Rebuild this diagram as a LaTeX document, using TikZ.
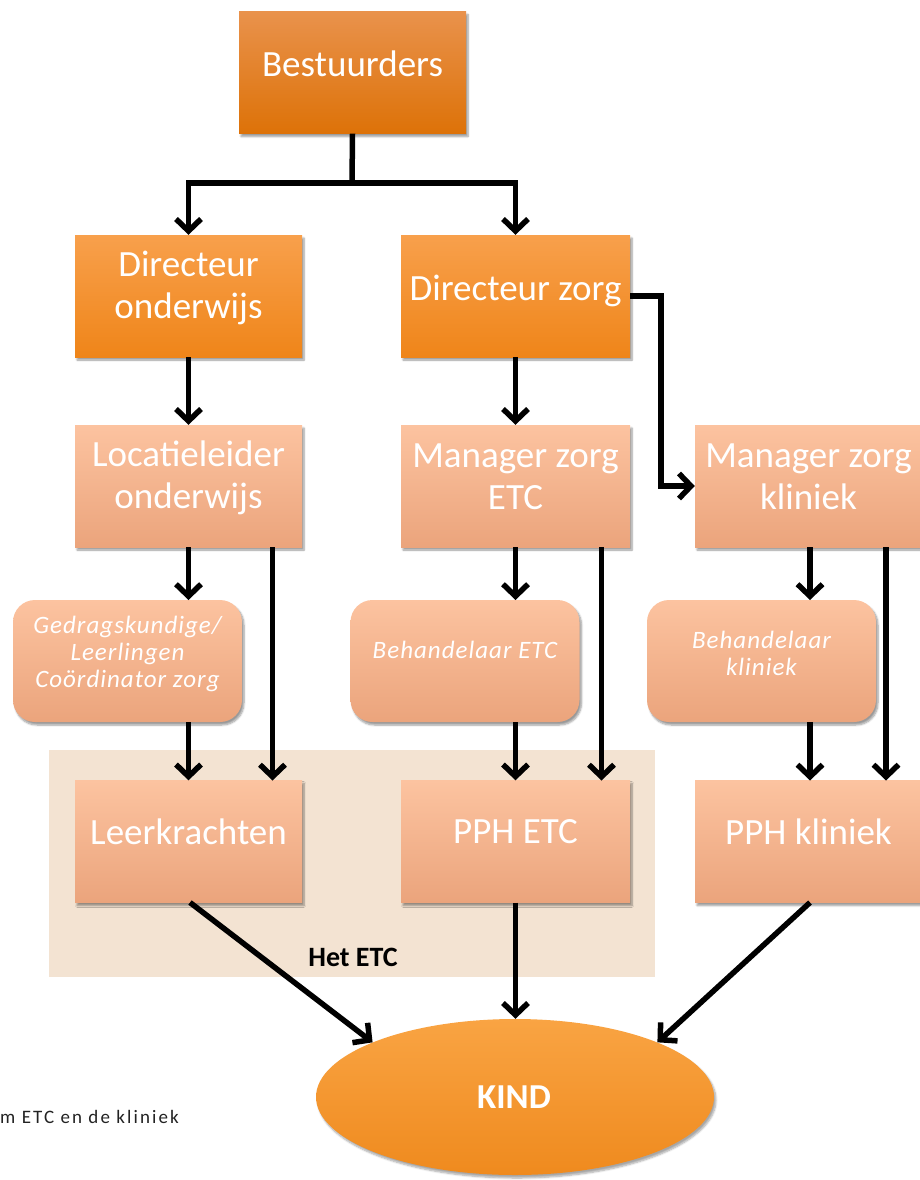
\documentclass[tikz,border=0pt]{standalone}
\usepackage{fontspec}
\setmainfont{Carlito}
\usetikzlibrary{arrows.meta,shadows,shadows.blur,shapes.geometric}
\definecolor{bestTop}{HTML}{E9924C}
\definecolor{bestBot}{HTML}{DD7208}
\definecolor{dirTop}{HTML}{F8A04C}
\definecolor{dirBot}{HTML}{EF8519}
\definecolor{lightTop}{HTML}{FCC3A0}
\definecolor{lightBot}{HTML}{EBA47C}
\definecolor{kindTop}{HTML}{F9A443}
\definecolor{kindBot}{HTML}{EF8A1E}
\definecolor{etcBg}{HTML}{F3E3D2}
\definecolor{noteGray}{HTML}{222222}
\tikzset{
  boxbase/.style={rectangle, minimum width=227pt, minimum height=122pt, inner sep=0pt,
    blur shadow={shadow xshift=2pt, shadow yshift=-3pt, shadow blur steps=6, shadow opacity=40}},
  topbox/.style={boxbase, top color=bestTop, bottom color=bestBot},
  dirbox/.style={boxbase, top color=dirTop, bottom color=dirBot},
  lightbox/.style={boxbase, top color=lightTop, bottom color=lightBot},
  roundbox/.style={boxbase, rounded corners=22pt, minimum width=229pt,
    top color=lightTop, bottom color=lightBot},
  lbl/.style={text=white, align=center, inner sep=0pt, font=\fontsize{37}{42}\selectfont},
  ilbl/.style={text=white, align=center, inner sep=0pt,
    font=\itshape\fontsize{25}{27}\addfontfeatures{LetterSpace=4}\selectfont},
  conn/.style={line width=5.5pt, draw=black},
  arr/.style={conn, -{Straight Barb[length=12pt, width=25pt, line width=5.5pt]}},
}
\begin{document}
\begin{tikzpicture}[x=1pt, y=-1pt]
\useasboundingbox (0,0) rectangle (920,1180);
% ETC background
\fill[etcBg] (49,750) rectangle (655,977);
\node[font=\bfseries\fontsize{28}{32}\selectfont] (hetetc) at (353,957) {Het ETC};

% boxes
\node[topbox] (best) at (352.5,72.5) {};
\node[dirbox] (dirond) at (188.5,296) {};
\node[dirbox, minimum width=229pt] (dirzorg) at (515.5,296) {};
\node[lightbox] (loc) at (188.5,486) {};
\node[lightbox, minimum width=229pt] (manetc) at (515.5,486) {};
\node[lightbox] (mankl) at (808.5,486) {};
\node[roundbox] (gedrag) at (127.5,661) {};
\node[roundbox] (behetc) at (465,661) {};
\node[roundbox] (behkl) at (761.5,661) {};
\node[lightbox] (leer) at (188.5,841.5) {};
\node[lightbox, minimum width=229pt] (pphetc) at (515.5,841.5) {};
\node[lightbox] (pphkl) at (808.5,841.5) {};
\node[ellipse, minimum width=398pt, minimum height=156pt, top color=kindTop, bottom color=kindBot,
  blur shadow={shadow xshift=2pt, shadow yshift=-3pt, shadow blur steps=6, shadow opacity=35}] (kind) at (515,1097) {};

% labels
\node[lbl] (bestT) at ([yshift=9pt]best.center) {Bestuurders};
\node[lbl] (dirondT) at ([yshift=8pt]dirond.center) {Directeur\\onderwijs};
\node[lbl] (dirzorgT) at ([yshift=5pt]dirzorg.center) {Directeur zorg};
\node[lbl] (locT) at ([yshift=8pt]loc.center) {Locatieleider\\onderwijs};
\node[lbl] (manetcT) at ([yshift=9pt]manetc.center) {Manager zorg\\ETC};
\node[lbl] (manklT) at ([yshift=9pt]mankl.center) {Manager zorg\\kliniek};
\node[ilbl] (gedragT) at ([yshift=7pt]gedrag.center) {Gedragskundige/\\Leerlingen\\Co\"ordinator zorg};
\node[ilbl] (behetcT) at ([yshift=11pt]behetc.center) {Behandelaar ETC};
\node[ilbl] (behklT) at ([yshift=8pt]behkl.center) {Behandelaar\\kliniek};
\node[lbl] (leerT) at ([yshift=10pt]leer.center) {Leerkrachten};
\node[lbl] (pphetcT) at ([yshift=10pt]pphetc.center) {PPH ETC};
\node[lbl] (pphklT) at ([yshift=10pt]pphkl.center) {PPH kliniek};
\node[text=white, font=\bfseries\fontsize{35}{40}\selectfont, inner sep=0pt] (kindT) at ([xshift=-1pt]kind.center) {KIND};
\node[anchor=west, text=noteGray, inner sep=0pt,
  font=\fontsize{19}{21}\addfontfeatures{LetterSpace=11}\selectfont] (note) at (0,1117) {m ETC en de kliniek};

% connectors
\coordinate (split) at (352,183);
\coordinate (splitL) at (188.5,183);
\coordinate (splitR) at (515.5,183);
\draw[conn] (best.south) -- (split);
\draw[conn, line cap=rect] (splitL) -- (splitR);
\draw[arr] (splitL) -- (dirond.north);
\draw[arr] (splitR) -- (dirzorg.north);
\draw[arr] (dirond) -- (loc);
\draw[arr] (dirzorg) -- (manetc);
\coordinate (bendA) at (661,296);
\coordinate (bendB) at (661,486);
\draw[arr, line join=miter] (dirzorg.east) -- (bendA) -- (bendB) -- (mankl.west);
% column onderwijs
\coordinate (locS) at (188.5,547);
\coordinate (gedN) at (188.5,600);
\coordinate (gedS) at (188.5,722);
\draw[arr] (locS) -- (gedN);
\draw[arr] (gedS) -- (leer.north);
\coordinate (locS2) at (272.5,547);
\coordinate (leerN2) at (272.5,780.5);
\draw[arr] (locS2) -- (leerN2);
% column ETC
\coordinate (metS) at (515.5,547);
\coordinate (betN) at (515.5,600);
\coordinate (betS) at (515.5,722);
\draw[arr] (metS) -- (betN);
\draw[arr] (betS) -- (pphetc.north);
\coordinate (metS2) at (601.5,547);
\coordinate (pphN2) at (601.5,780.5);
\draw[arr] (metS2) -- (pphN2);
% column kliniek
\coordinate (mklS) at (810,547);
\coordinate (bklN) at (810,600);
\coordinate (bklS) at (810,722);
\coordinate (pklN) at (810,780.5);
\draw[arr] (mklS) -- (bklN);
\draw[arr] (bklS) -- (pklN);
\coordinate (mklS2) at (886,547);
\coordinate (pklN2) at (886,780.5);
\draw[arr] (mklS2) -- (pklN2);
% to KIND
\coordinate (leerS) at (190,902.5);
\coordinate (pklS) at (810,902.5);
\draw[arr] (leerS) -- (kind.159);
\draw[arr] (pphetc.south) -- (kind.north -| pphetc.south);
\draw[arr] (pklS) -- (kind.21);
\end{tikzpicture}
\end{document}
